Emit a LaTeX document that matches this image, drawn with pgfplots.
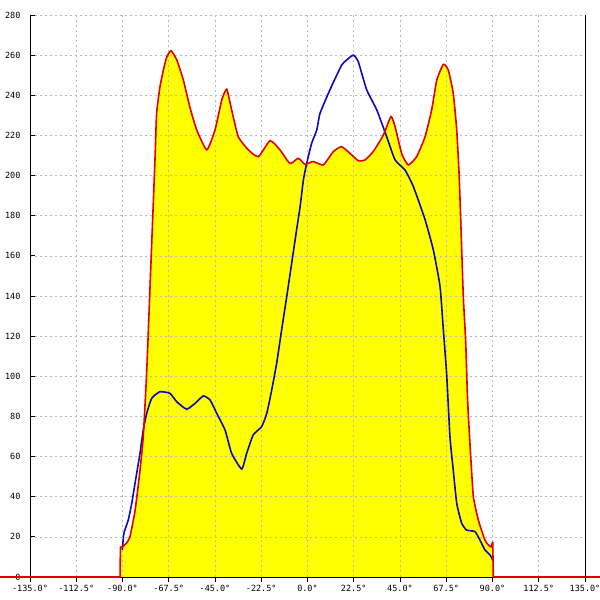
\documentclass[border=0pt]{standalone}
\usepackage{fontspec}
\setmonofont{DejaVu Sans Mono}
\usepackage{pgfplots}
\pgfplotsset{compat=1.18}
\definecolor{curvered}{RGB}{228,0,0}
\definecolor{curveblue}{RGB}{10,10,190}
\definecolor{fillyellow}{RGB}{255,255,0}
\pgfplotstableread{
x y
-91.0 15
-90.1 15
-88.0 17
-86.4 20
-83.9 33
-81.5 53
-79.9 70
-78.2 103
-76.4 150
-74.2 208
-73.4 231
-71.8 244
-70.1 252.6
-68.5 259
-66.4 262.2
-63.6 257.6
-60.4 247.6
-57.2 234
-53.9 222.7
-49.0 212.8
-45.0 222.7
-41.7 237.7
-39.3 243
-36.9 232.7
-33.7 219.4
-28.8 212.8
-23.9 209.4
-18.2 217.4
-13.4 212.8
-8.5 206
-4.5 208.6
-1.2 205.6
2.8 207
7.7 205.3
12.6 212
16.6 214.4
20.7 211
24.7 207.4
28 207.8
32 212
36.9 220.2
40.6 229.4
42.6 224.4
45.8 211
49 205.3
53.1 209.4
57.2 219.4
60.4 232.7
62.9 247.6
66.1 255.4
68.5 252.6
70.9 241
72.6 222.7
73.8 199.5
74.7 173
75.8 139.7
77.0 116.4
77.7 93.2
78.2 81.6
79.4 60
80.7 40
83.1 28.4
86.3 18.4
88.0 16
89.3 15
90.1 17.5
}\redtable
\pgfplotstableread{
x y
-90.1 13.5
-89.3 21.8
-87.2 28.4
-85.5 36.7
-83.9 46.7
-81.5 61.6
-79.9 73.2
-78.2 81.6
-75.8 89
-71.8 92.3
-66.9 91.5
-63.6 87.3
-58.8 83.6
-54.7 86.5
-50.7 90.2
-47.4 88.2
-44.2 81.6
-40.1 73.2
-36.9 61.6
-32.0 53.8
-29.6 61.6
-26.4 70.8
-22.3 74.9
-19.8 81.6
-17.4 93.2
-15.0 106.5
-12.6 123
-10.1 139.7
-7.7 156.3
-5.3 173
-3.6 184.5
-2.0 197.8
-0.4 206
2.0 216
4.5 222.7
6.1 231
10.9 242.7
16.6 255
19.1 257.6
22.3 260
24.7 256.7
28.8 242.7
33.7 232.7
38.5 219.4
42.6 207.8
47.4 202.8
51.5 194.5
57.2 178
61.2 163
64.5 144.6
66.1 123
67.7 101
69.3 70
70.9 53.3
72.6 36.7
75.0 26.8
77.4 23.4
81.5 22.6
83.9 18.4
86.3 13.5
88.8 11
90.1 8.5
}\bluetable
\begin{document}
\begin{tikzpicture}
\begin{axis}[
  set layers,
  width=555pt, height=562pt, scale only axis,
  xmin=-135, xmax=135, ymin=0, ymax=280,
  axis lines=left, axis line style={-, black, line width=0.8pt},
  clip=false,
  xtick={-135,-112.5,-90,-67.5,-45,-22.5,0,22.5,45,67.5,90,112.5,135},
  xticklabels={-135.0°,-112.5°,-90.0°,-67.5°,-45.0°,-22.5°,0.0°,22.5°,45.0°,67.5°,90.0°,112.5°,135.0°},
  ytick={0,20,...,280},
  yticklabels={0,20,40,60,80,100,120,140,160,180,200,220,240,260,280},
  grid=major,
  grid style={dash pattern=on 2pt off 3pt, black!28, line width=0.7pt},
  ticklabel style={font=\ttfamily\fontsize{8.5}{9}\selectfont},
  xtick align=outside, ytick align=inside,
  major tick length=4.5pt,
  tick style={black, line width=0.8pt},
  yticklabel style={xshift=-6pt},
]
% yellow fill (under the grid)
\addplot[draw=none, fill=fillyellow, smooth, tension=0.3, on layer=axis background] table[x=x,y=y] {\redtable} \closedcycle;
% blue curve
\addplot[curveblue, line width=1.6pt, smooth, tension=0.3] table[x=x,y=y] {\bluetable};
% red curve
\addplot[curvered, line width=1.6pt, smooth, tension=0.3] table[x=x,y=y] {\redtable};
\addplot[curvered, line width=1.6pt, line join=round] coordinates {(-149.6,0) (-91.2,0) (-91.0,15)};
\addplot[curvered, line width=1.6pt, line join=round] coordinates {(90.1,17.5) (90.4,0) (142.3,0)};
\draw[black, line width=0.8pt] (rel axis cs:1,0) -- (rel axis cs:1,1);
\end{axis}
\pgfresetboundingbox
\path[use as bounding box] (-30pt,-23pt) rectangle (570pt,577pt);
\end{tikzpicture}
\end{document}
